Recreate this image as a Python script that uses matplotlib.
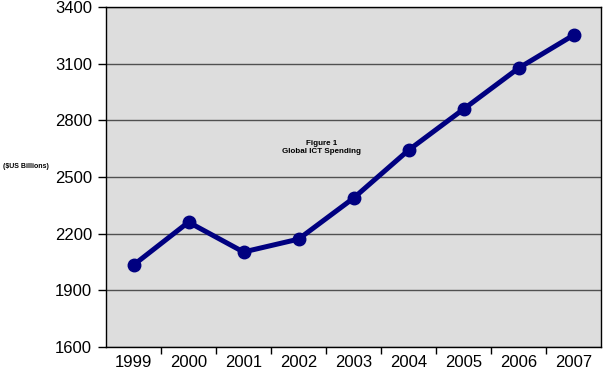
import numpy as np
import matplotlib
import matplotlib.pyplot as plt

matplotlib.use('Agg')

years = ['1999', '2000', '2001', '2002', '2003', '2004', '2005', '2006', '2007']
spending = [2034, 2261, 2103, 2171, 2388, 2642, 2859, 3076, 3251]
y_ticks = [1600, 1900, 2200, 2500, 2800, 3100, 3400]

plt.rcParams['font.family'] = ['Liberation Sans', 'DejaVu Sans']

fig = plt.figure(figsize=(6.04, 3.71), dpi=100)
ax = fig.add_axes([106 / 604, 24 / 371, 495 / 604, 340 / 371])
ax.set_facecolor('#dddddd')

x = np.arange(len(years))
ax.plot(x, spending, color='#000080', lw=3.6, marker='o', markersize=9,
        markerfacecolor='#000080', markeredgecolor='#000080', zorder=3,
        solid_capstyle='butt')

ax.set_xlim(-0.5, len(years) - 0.5)
ax.set_ylim(y_ticks[0], y_ticks[-1])
ax.set_yticks(y_ticks)
ax.set_xticks(x)
ax.set_xticklabels(years)
ax.set_xticks(np.arange(0.5, len(years) - 1, 1), minor=True)

ax.grid(axis='y', color='#505050', lw=1, zorder=1)
ax.tick_params(axis='y', length=6, width=1, pad=4, labelsize=12)
ax.tick_params(axis='x', which='major', length=0, pad=6, labelsize=12)
ax.tick_params(axis='x', which='minor', length=5, width=1)

for side in ['left', 'bottom', 'top', 'right']:
    ax.spines[side].set_color('black')
    ax.spines[side].set_linewidth(1)

ax.text(0.436, 0.588, 'Figure 1\nGlobal ICT Spending', transform=ax.transAxes,
        ha='center', va='center', fontsize=5.8, fontweight='bold', linespacing=1.2)
fig.text(3 / 604, 1 - 166 / 371, '($US Billions)', ha='left', va='center',
         fontsize=5.0, fontweight='bold')

fig.savefig('out.png', dpi=100)
